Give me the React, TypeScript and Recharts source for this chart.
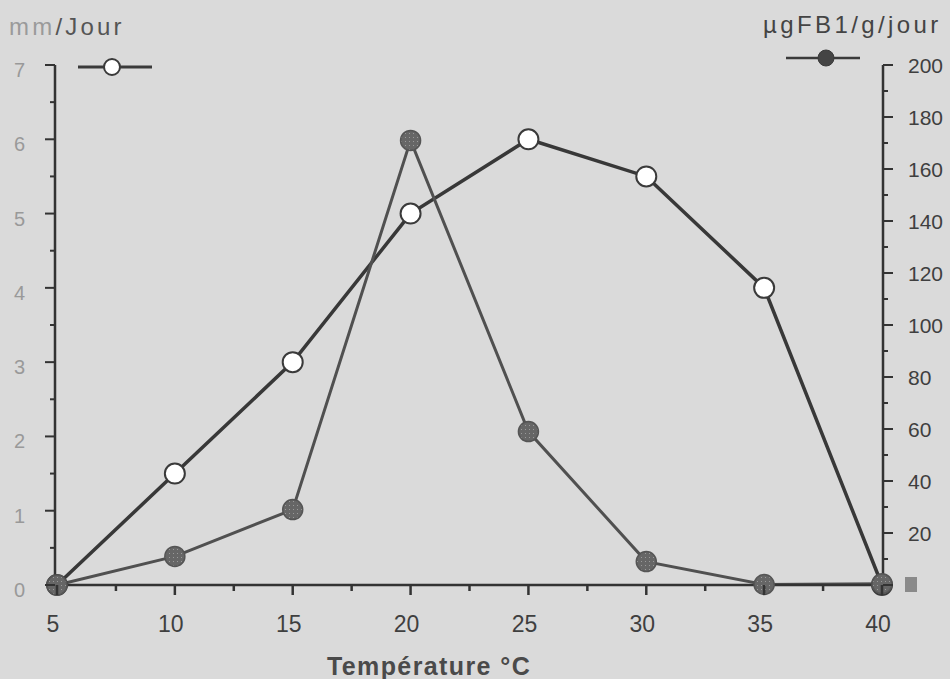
import { LineChart, Line, XAxis, YAxis } from 'recharts'

// Température °C
const temperatures = [5, 10, 15, 20, 25, 30, 35, 40]
// croissance mycélienne, mm/Jour (cercles vides, axe gauche)
const croissance = [0, 1.5, 3, 5, 6, 5.5, 4, 0]
// production de FB1, µgFB1/g/jour (cercles pleins, axe droit)
const fumonisine = [0, 11, 29, 171, 59, 9, 0.2, 0.5]

const xTicks = [5, 7.5, 10, 12.5, 15, 17.5, 20, 22.5, 25, 27.5, 30, 32.5, 35, 37.5, 40]
const leftTicks = [0, 0.5, 1, 1.5, 2, 2.5, 3, 3.5, 4, 4.5, 5, 5.5, 6, 6.5, 7]
const rightTicks = [0, 10, 20, 30, 40, 50, 60, 70, 80, 90, 100, 110, 120, 130, 140, 150, 160, 170, 180, 190, 200]

const data = temperatures.map((t, i) => ({
  temp: t,
  croissance: croissance[i],
  fumonisine: fumonisine[i],
}))

const FONT = '"Liberation Sans", Arial, Helvetica, sans-serif'
const AXIS = '#333'

const XTick = (props: any) => {
  const { x, y, payload } = props
  const major = payload.value % 5 === 0
  return (
    <g>
      <line x1={x} x2={x} y1={y} y2={y + (major ? 10 : 6)} stroke={AXIS} strokeWidth={2.5} />
      {major && (
        <text x={x - 4} y={y + 47} textAnchor="middle" fill="#3f3f3f" fontSize={23} fontFamily={FONT}>
          {payload.value}
        </text>
      )}
    </g>
  )
}

const LeftTick = (props: any) => {
  const { x, y, payload } = props
  const major = Number.isInteger(payload.value)
  return (
    <g>
      <line x1={x} x2={x - (major ? 10 : 5)} y1={y} y2={y} stroke={AXIS} strokeWidth={2} />
      {major && (
        <text x={x - 30} y={y + 12} textAnchor="end" fill="#999" fontSize={20} fontFamily={FONT}>
          {payload.value}
        </text>
      )}
    </g>
  )
}

const RightTick = (props: any) => {
  const { x, y, payload } = props
  const v = payload.value
  const major = v % 20 === 0
  return (
    <g>
      <line x1={x} x2={x + (major ? 10 : 5)} y1={y} y2={y} stroke={AXIS} strokeWidth={2} />
      {major && v > 0 && (
        <text x={x + 25} y={y + 8} textAnchor="start" fill="#3f3f3f" fontSize={21} fontFamily={FONT}>
          {v}
        </text>
      )}
      {v === 0 && <rect x={x + 22} y={y - 8} width={12} height={15} fill="#8a8a8a" />}
    </g>
  )
}

const App = () => {
  return (
    <div
      style={{
        position: 'absolute',
        left: 0,
        top: 0,
        width: 950,
        height: 679,
        background: '#dadada',
        fontFamily: FONT,
        overflow: 'hidden',
      }}
    >
      <svg width={0} height={0} style={{ position: 'absolute' }}>
        <defs>
          <pattern id="stipple" width={4} height={4} patternUnits="userSpaceOnUse">
            <rect width={4} height={4} fill="#666" />
            <rect x={1} y={1} width={1} height={1} fill="#9a9a9a" />
          </pattern>
        </defs>
      </svg>
      <LineChart
        width={950}
        height={679}
        data={data}
        margin={{ top: 65, right: 7, bottom: 54, left: 0 }}
      >
        <XAxis
          dataKey="temp"
          type="number"
          domain={[5, 40]}
          ticks={xTicks}
          interval={0}
          tickSize={0}
          tickMargin={0}
          tickLine={false}
          tick={(p: any) => <XTick {...p} />}
          axisLine={{ stroke: AXIS, strokeWidth: 2.5 }}
          padding={{ left: 2, right: 1 }}
          height={40}
        />
        <YAxis
          yAxisId="left"
          domain={[0, 7]}
          ticks={leftTicks}
          interval={0}
          tickSize={0}
          tickMargin={0}
          tickLine={false}
          tick={(p: any) => <LeftTick {...p} />}
          axisLine={{ stroke: AXIS, strokeWidth: 2.5 }}
          width={55}
        />
        <YAxis
          yAxisId="right"
          orientation="right"
          domain={[0, 200]}
          ticks={rightTicks}
          interval={0}
          tickSize={0}
          tickMargin={0}
          tickLine={false}
          tick={(p: any) => <RightTick {...p} />}
          axisLine={{ stroke: AXIS, strokeWidth: 2.5 }}
          width={60}
        />
        <Line
          yAxisId="left"
          dataKey="croissance"
          type="linear"
          stroke="#383838"
          strokeWidth={3.5}
          dot={{ r: 10, fill: '#fff', stroke: '#3a3a3a', strokeWidth: 2 }}
          isAnimationActive={false}
        />
        <Line
          yAxisId="right"
          dataKey="fumonisine"
          type="linear"
          stroke="#505050"
          strokeWidth={3}
          dot={{ r: 10, fill: 'url(#stipple)', stroke: '#555', strokeWidth: 1.5 }}
          isAnimationActive={false}
        />
      </LineChart>

      <div style={{ position: 'absolute', left: 9, top: 13, fontSize: 24, letterSpacing: 3.2, whiteSpace: 'nowrap' }}>
        <span style={{ color: '#9a9a9a' }}>mm</span>
        <span style={{ color: '#555' }}>/Jour</span>
      </div>
      <div
        style={{
          position: 'absolute',
          left: 763,
          top: 11,
          fontSize: 24,
          color: '#444',
          letterSpacing: 3.4,
          whiteSpace: 'nowrap',
        }}
      >
        µgFB1/g/jour
      </div>
      <div
        style={{
          position: 'absolute',
          left: 0,
          width: 858,
          top: 652,
          textAlign: 'center',
          fontSize: 25,
          fontWeight: 'bold',
          letterSpacing: 1.4,
          color: '#4a4a4a',
          whiteSpace: 'nowrap',
        }}
      >
        Température °C
      </div>

      <svg style={{ position: 'absolute', left: 0, top: 0 }} width={950} height={100}>
        <line x1={78} x2={152} y1={67} y2={67} stroke="#3a3a3a" strokeWidth={3} />
        <circle cx={112} cy={67} r={8} fill="#fff" stroke="#3a3a3a" strokeWidth={2} />
        <line x1={786} x2={860} y1={58} y2={58} stroke="#3a3a3a" strokeWidth={2.5} />
        <circle cx={826} cy={58} r={8} fill="#444" stroke="#3a3a3a" strokeWidth={1} />
      </svg>
    </div>
  )
}

export default App
